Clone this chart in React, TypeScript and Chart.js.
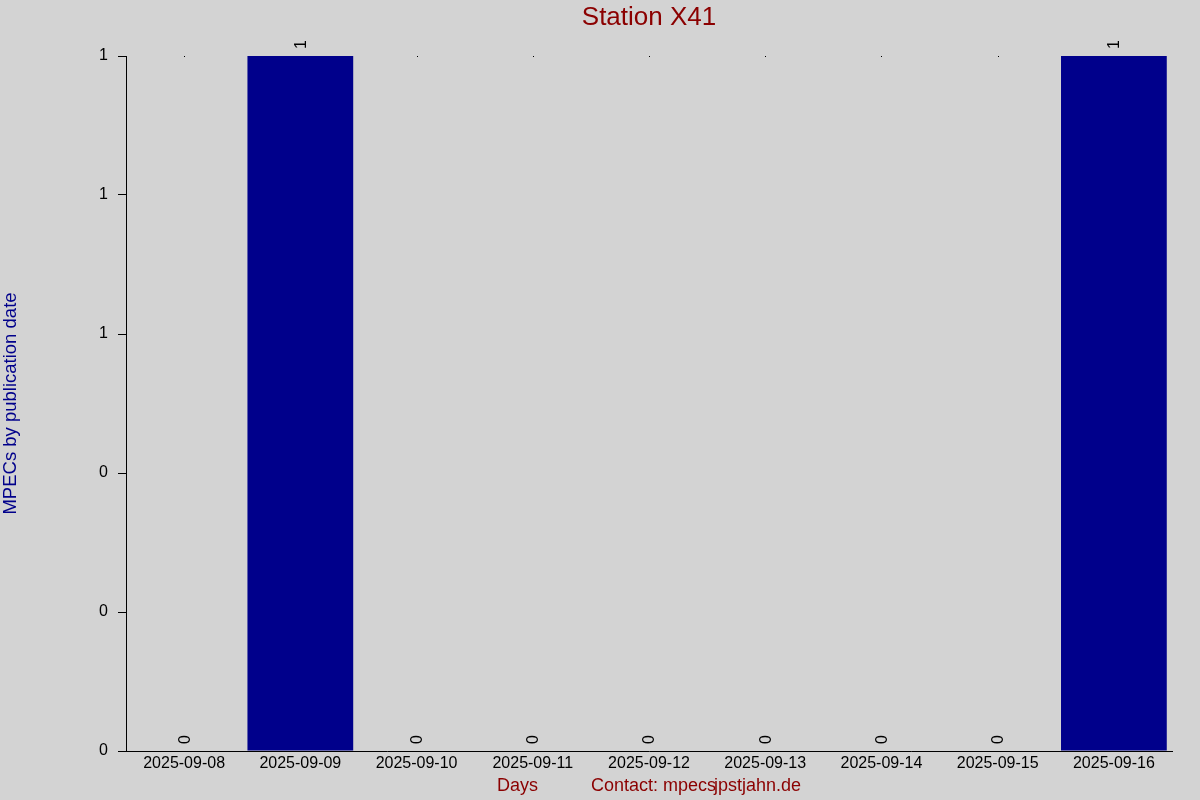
import React, { useEffect, useRef } from 'react';
import { Chart, registerables } from 'chart.js';

Chart.register(...registerables);

// Data
const days = [
  '2025-09-08',
  '2025-09-09',
  '2025-09-10',
  '2025-09-11',
  '2025-09-12',
  '2025-09-13',
  '2025-09-14',
  '2025-09-15',
  '2025-09-16',
];
const mpecCounts = [0, 1, 0, 0, 0, 0, 0, 0, 1];
const yTickValues = [0, 0.2, 0.4, 0.6, 0.8, 1];

const FONT = '"Liberation Sans", Arial, Helvetica, sans-serif';
const DARK_RED = '#8b0000';
const DARK_BLUE = '#00008b';

// background, titles, value labels and the little top dots
const decorPlugin = {
  id: 'decor',
  beforeDraw(chart: Chart) {
    const { ctx, width, height } = chart;
    ctx.save();
    ctx.fillStyle = '#d3d3d3';
    ctx.fillRect(0, 0, width, height);
    ctx.restore();
  },
  afterDraw(chart: Chart) {
    const { ctx, chartArea } = chart;
    ctx.save();

    // title
    ctx.fillStyle = DARK_RED;
    ctx.font = `26px ${FONT}`;
    ctx.textAlign = 'center';
    ctx.textBaseline = 'middle';
    ctx.fillText('Station X41', (chartArea.left + chartArea.right) / 2, 18);

    // y axis title
    ctx.save();
    ctx.translate(11, (chartArea.top + chartArea.bottom) / 2);
    ctx.rotate(-Math.PI / 2);
    ctx.fillStyle = DARK_BLUE;
    ctx.font = `18.5px ${FONT}`;
    ctx.fillText('MPECs by publication date', 0, 0);
    ctx.restore();

    // x axis title + contact line
    ctx.fillStyle = DARK_RED;
    ctx.font = `18px ${FONT}`;
    ctx.textAlign = 'left';
    ctx.fillText('Days', 497, 786);
    ctx.fillText('Contact: mpecs', 591, 786);
    ctx.fillText('jpstjahn.de', 714, 786);

    // rotated value labels above each bar
    const meta = chart.getDatasetMeta(0);
    ctx.fillStyle = '#000';
    ctx.font = `16px ${FONT}`;
    meta.data.forEach((bar: any, i: number) => {
      const v = mpecCounts[i];
      ctx.save();
      ctx.translate(bar.x + 1, bar.y - 7);
      ctx.rotate(-Math.PI / 2);
      ctx.textAlign = 'left';
      ctx.textBaseline = 'middle';
      ctx.fillText(String(v), 0, 0);
      ctx.restore();
      if (v === 0) {
        ctx.fillRect(Math.round(bar.x), chartArea.top, 1, 1);
      }
    });

    ctx.restore();
  },
};

const App: React.FC = () => {
  const canvasRef = useRef<HTMLCanvasElement | null>(null);
  const chartRef = useRef<Chart | null>(null);

  useEffect(() => {
    document.body.style.margin = '0';
    document.body.style.background = '#d3d3d3';
    if (!canvasRef.current) return;
    const ctx = canvasRef.current.getContext('2d');
    if (!ctx) return;

    if (chartRef.current) {
      chartRef.current.destroy();
      chartRef.current = null;
    }

    chartRef.current = new Chart(ctx, {
      type: 'bar',
      data: {
        labels: days,
        datasets: [
          {
            label: 'MPECs',
            data: mpecCounts,
            backgroundColor: DARK_BLUE,
            borderWidth: 0,
            barPercentage: 0.91,
            categoryPercentage: 1,
          },
        ],
      },
      options: {
        animation: false,
        responsive: false,
        maintainAspectRatio: false,
        layout: { padding: { top: 56, right: 28, left: 0, bottom: 0 } },
        plugins: {
          legend: { display: false },
          tooltip: { enabled: false },
          title: { display: false },
        },
        scales: {
          x: {
            type: 'category',
            offset: true,
            grid: { display: false, drawTicks: false },
            border: { display: true, color: '#000', width: 1 },
            ticks: {
              color: '#000',
              font: { family: FONT, size: 16 },
              padding: 3,
              maxRotation: 0,
              autoSkip: false,
            },
            afterFit: (scale: any) => {
              scale.height = 49;
            },
          },
          y: {
            min: 0,
            max: 1,
            afterBuildTicks: (scale: any) => {
              scale.ticks = yTickValues.map((value) => ({ value }));
            },
            grid: {
              drawOnChartArea: false,
              drawTicks: true,
              tickLength: 8,
              color: '#000',
            },
            border: { display: true, color: '#000', width: 1 },
            ticks: {
              color: '#000',
              font: { family: FONT, size: 16 },
              padding: 10,
              callback: (v: any) => String(Math.round(Number(v))),
            },
            afterFit: (scale: any) => {
              scale.width = 126;
            },
          },
        },
      },
      plugins: [decorPlugin],
    });

    return () => {
      if (chartRef.current) {
        chartRef.current.destroy();
        chartRef.current = null;
      }
    };
  }, []);

  return (
    <div style={{ width: 1200, height: 800 }}>
      <canvas ref={canvasRef} width={1200} height={800} style={{ display: 'block' }}></canvas>
    </div>
  );
};

export default App;
